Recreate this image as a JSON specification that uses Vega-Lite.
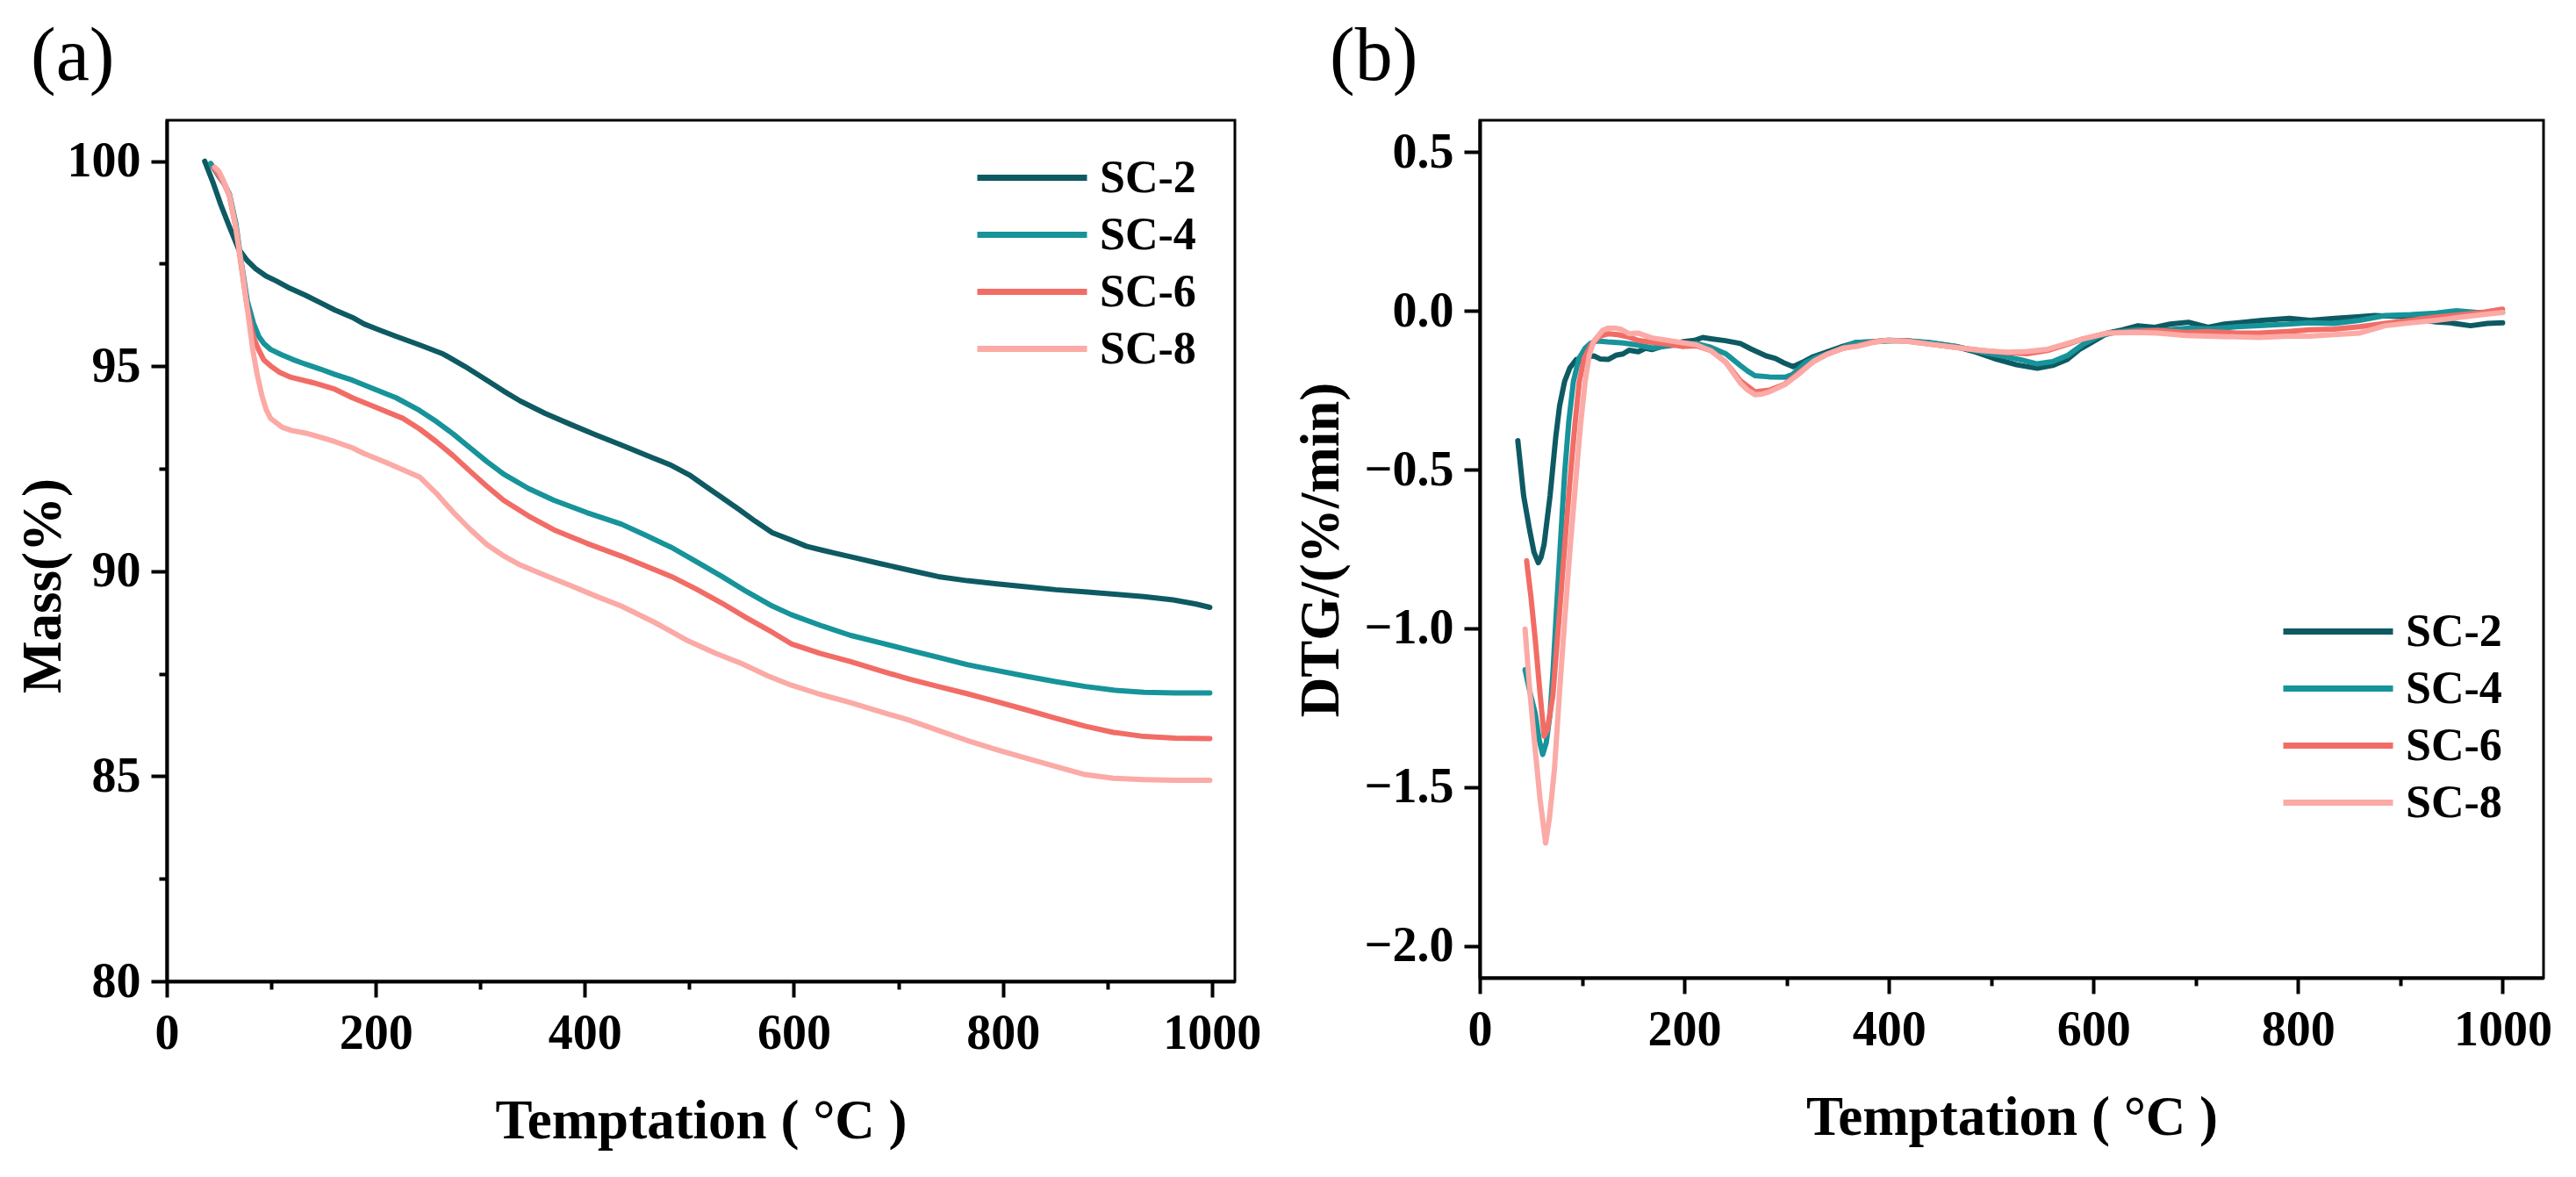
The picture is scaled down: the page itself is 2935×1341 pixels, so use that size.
{
  "$schema": "https://vega.github.io/schema/vega-lite/v6.json",
  "background": "white",
  "padding": {"left": 16, "top": 20, "right": 5, "bottom": 5},
  "config": {
    "font": "Liberation Serif",
    "view": {"stroke": "black", "strokeWidth": 3},
    "axis": {
      "grid": false,
      "domainColor": "black", "domainWidth": 4,
      "tickColor": "black", "tickWidth": 4,
      "labelFont": "Liberation Serif", "labelFontWeight": "bold", "labelFontSize": 56, "labelColor": "black",
      "labelFlush": false, "labelOverlap": false,
      "titleFont": "Liberation Serif", "titleFontWeight": "bold", "titleFontSize": 63, "titleColor": "black"
    },
    "legend": {
      "labelFont": "Liberation Serif", "labelFontWeight": "bold", "labelFontSize": 52, "labelColor": "black"
    },
    "title": {"font": "Liberation Serif", "fontSize": 86, "fontWeight": "normal", "color": "black"}
  },
  "datasets": {
    "tg": [
      {"s":"SC-2","t":36.3,"v":100.0},{"s":"SC-2","t":44,"v":99.5},{"s":"SC-2","t":51.7,"v":98.94},{"s":"SC-2","t":60,"v":98.4},{"s":"SC-2","t":68.5,"v":97.87},{"s":"SC-2","t":76.9,"v":97.58},{"s":"SC-2","t":85.4,"v":97.37},{"s":"SC-2","t":95,"v":97.2},{"s":"SC-2","t":104.8,"v":97.08},{"s":"SC-2","t":118,"v":96.9},{"s":"SC-2","t":132.9,"v":96.73},{"s":"SC-2","t":147,"v":96.55},{"s":"SC-2","t":160.9,"v":96.37},{"s":"SC-2","t":177.7,"v":96.19},{"s":"SC-2","t":188.8,"v":96.03},{"s":"SC-2","t":204,"v":95.88},{"s":"SC-2","t":219.5,"v":95.73},{"s":"SC-2","t":242,"v":95.52},{"s":"SC-2","t":264.4,"v":95.3},{"s":"SC-2","t":285,"v":95.0},{"s":"SC-2","t":306.3,"v":94.66},{"s":"SC-2","t":322,"v":94.4},{"s":"SC-2","t":338.4,"v":94.15},{"s":"SC-2","t":362,"v":93.85},{"s":"SC-2","t":386.6,"v":93.58},{"s":"SC-2","t":410,"v":93.33},{"s":"SC-2","t":434.9,"v":93.08},{"s":"SC-2","t":459,"v":92.83},{"s":"SC-2","t":483,"v":92.58},{"s":"SC-2","t":500,"v":92.35},{"s":"SC-2","t":515.2,"v":92.08},{"s":"SC-2","t":531,"v":91.8},{"s":"SC-2","t":547.3,"v":91.51},{"s":"SC-2","t":563,"v":91.22},{"s":"SC-2","t":579.5,"v":90.94},{"s":"SC-2","t":597.6,"v":90.76},{"s":"SC-2","t":612,"v":90.61},{"s":"SC-2","t":627.7,"v":90.51},{"s":"SC-2","t":639.8,"v":90.44},{"s":"SC-2","t":660,"v":90.32},{"s":"SC-2","t":682,"v":90.19},{"s":"SC-2","t":710,"v":90.03},{"s":"SC-2","t":738.2,"v":89.87},{"s":"SC-2","t":766,"v":89.77},{"s":"SC-2","t":794.5,"v":89.69},{"s":"SC-2","t":822,"v":89.62},{"s":"SC-2","t":850.7,"v":89.55},{"s":"SC-2","t":878,"v":89.5},{"s":"SC-2","t":906.9,"v":89.44},{"s":"SC-2","t":935,"v":89.38},{"s":"SC-2","t":963,"v":89.3},{"s":"SC-2","t":985,"v":89.2},{"s":"SC-2","t":998,"v":89.12},
      {"s":"SC-4","t":42,"v":99.95},{"s":"SC-4","t":50,"v":99.62},{"s":"SC-4","t":55,"v":99.45},{"s":"SC-4","t":60,"v":99.2},{"s":"SC-4","t":66,"v":98.5},{"s":"SC-4","t":71,"v":97.6},{"s":"SC-4","t":77,"v":96.6},{"s":"SC-4","t":83,"v":96.05},{"s":"SC-4","t":88,"v":95.73},{"s":"SC-4","t":93,"v":95.55},{"s":"SC-4","t":99.3,"v":95.41},{"s":"SC-4","t":110,"v":95.28},{"s":"SC-4","t":120,"v":95.17},{"s":"SC-4","t":132.9,"v":95.05},{"s":"SC-4","t":147,"v":94.93},{"s":"SC-4","t":160.9,"v":94.8},{"s":"SC-4","t":177.7,"v":94.66},{"s":"SC-4","t":198,"v":94.45},{"s":"SC-4","t":219.5,"v":94.23},{"s":"SC-4","t":240,"v":93.95},{"s":"SC-4","t":258,"v":93.65},{"s":"SC-4","t":274,"v":93.35},{"s":"SC-4","t":290.2,"v":93.01},{"s":"SC-4","t":306,"v":92.68},{"s":"SC-4","t":322.3,"v":92.37},{"s":"SC-4","t":346,"v":92.02},{"s":"SC-4","t":370.5,"v":91.73},{"s":"SC-4","t":402,"v":91.43},{"s":"SC-4","t":434.9,"v":91.15},{"s":"SC-4","t":459,"v":90.87},{"s":"SC-4","t":483,"v":90.58},{"s":"SC-4","t":507,"v":90.23},{"s":"SC-4","t":531.3,"v":89.87},{"s":"SC-4","t":555,"v":89.5},{"s":"SC-4","t":579.5,"v":89.15},{"s":"SC-4","t":597.6,"v":88.94},{"s":"SC-4","t":627.7,"v":88.66},{"s":"SC-4","t":653.8,"v":88.44},{"s":"SC-4","t":682,"v":88.26},{"s":"SC-4","t":710.1,"v":88.08},{"s":"SC-4","t":738,"v":87.9},{"s":"SC-4","t":766.3,"v":87.72},{"s":"SC-4","t":794,"v":87.58},{"s":"SC-4","t":822.5,"v":87.44},{"s":"SC-4","t":850,"v":87.31},{"s":"SC-4","t":878.8,"v":87.19},{"s":"SC-4","t":906,"v":87.1},{"s":"SC-4","t":935,"v":87.05},{"s":"SC-4","t":965,"v":87.03},{"s":"SC-4","t":998,"v":87.03},
      {"s":"SC-6","t":45,"v":99.85},{"s":"SC-6","t":50,"v":99.65},{"s":"SC-6","t":55,"v":99.45},{"s":"SC-6","t":60,"v":99.15},{"s":"SC-6","t":66,"v":98.4},{"s":"SC-6","t":71,"v":97.5},{"s":"SC-6","t":77,"v":96.44},{"s":"SC-6","t":83,"v":95.7},{"s":"SC-6","t":88,"v":95.4},{"s":"SC-6","t":93,"v":95.15},{"s":"SC-6","t":99.3,"v":95.01},{"s":"SC-6","t":108,"v":94.85},{"s":"SC-6","t":118.9,"v":94.73},{"s":"SC-6","t":140,"v":94.6},{"s":"SC-6","t":160.9,"v":94.44},{"s":"SC-6","t":177.7,"v":94.23},{"s":"SC-6","t":202,"v":93.98},{"s":"SC-6","t":225.9,"v":93.73},{"s":"SC-6","t":242,"v":93.47},{"s":"SC-6","t":258,"v":93.16},{"s":"SC-6","t":274,"v":92.82},{"s":"SC-6","t":290.2,"v":92.44},{"s":"SC-6","t":306,"v":92.08},{"s":"SC-6","t":322.3,"v":91.73},{"s":"SC-6","t":346,"v":91.35},{"s":"SC-6","t":370.5,"v":91.01},{"s":"SC-6","t":402,"v":90.68},{"s":"SC-6","t":434.9,"v":90.37},{"s":"SC-6","t":459,"v":90.12},{"s":"SC-6","t":483,"v":89.87},{"s":"SC-6","t":507,"v":89.56},{"s":"SC-6","t":531.3,"v":89.22},{"s":"SC-6","t":555,"v":88.86},{"s":"SC-6","t":579.5,"v":88.51},{"s":"SC-6","t":597.6,"v":88.23},{"s":"SC-6","t":625,"v":88.0},{"s":"SC-6","t":653.8,"v":87.8},{"s":"SC-6","t":682,"v":87.58},{"s":"SC-6","t":710.1,"v":87.37},{"s":"SC-6","t":738,"v":87.19},{"s":"SC-6","t":766.3,"v":87.01},{"s":"SC-6","t":794,"v":86.82},{"s":"SC-6","t":822.5,"v":86.62},{"s":"SC-6","t":850,"v":86.42},{"s":"SC-6","t":878.8,"v":86.22},{"s":"SC-6","t":906,"v":86.07},{"s":"SC-6","t":935,"v":85.97},{"s":"SC-6","t":965,"v":85.93},{"s":"SC-6","t":998,"v":85.92},
      {"s":"SC-8","t":46,"v":99.85},{"s":"SC-8","t":50,"v":99.75},{"s":"SC-8","t":54.5,"v":99.51},{"s":"SC-8","t":60,"v":99.16},{"s":"SC-8","t":65.7,"v":98.44},{"s":"SC-8","t":71.3,"v":97.51},{"s":"SC-8","t":76.9,"v":96.44},{"s":"SC-8","t":82.5,"v":95.37},{"s":"SC-8","t":86.5,"v":94.8},{"s":"SC-8","t":90.9,"v":94.3},{"s":"SC-8","t":95,"v":93.95},{"s":"SC-8","t":99.3,"v":93.73},{"s":"SC-8","t":110.5,"v":93.51},{"s":"SC-8","t":120,"v":93.43},{"s":"SC-8","t":132.9,"v":93.37},{"s":"SC-8","t":147,"v":93.27},{"s":"SC-8","t":160.9,"v":93.16},{"s":"SC-8","t":177.7,"v":93.01},{"s":"SC-8","t":188.8,"v":92.87},{"s":"SC-8","t":210,"v":92.65},{"s":"SC-8","t":241.9,"v":92.3},{"s":"SC-8","t":258,"v":91.9},{"s":"SC-8","t":274.1,"v":91.44},{"s":"SC-8","t":290,"v":91.03},{"s":"SC-8","t":306.3,"v":90.65},{"s":"SC-8","t":322,"v":90.38},{"s":"SC-8","t":338.4,"v":90.15},{"s":"SC-8","t":362,"v":89.9},{"s":"SC-8","t":386.6,"v":89.65},{"s":"SC-8","t":410,"v":89.4},{"s":"SC-8","t":434.9,"v":89.15},{"s":"SC-8","t":467,"v":88.75},{"s":"SC-8","t":499,"v":88.3},{"s":"SC-8","t":525,"v":88.0},{"s":"SC-8","t":550,"v":87.75},{"s":"SC-8","t":575,"v":87.45},{"s":"SC-8","t":597.6,"v":87.22},{"s":"SC-8","t":625,"v":87.0},{"s":"SC-8","t":653.8,"v":86.8},{"s":"SC-8","t":682,"v":86.58},{"s":"SC-8","t":710.1,"v":86.37},{"s":"SC-8","t":738,"v":86.12},{"s":"SC-8","t":766.3,"v":85.87},{"s":"SC-8","t":794,"v":85.65},{"s":"SC-8","t":822.5,"v":85.44},{"s":"SC-8","t":850,"v":85.24},{"s":"SC-8","t":878.8,"v":85.04},{"s":"SC-8","t":906,"v":84.95},{"s":"SC-8","t":935,"v":84.92},{"s":"SC-8","t":965,"v":84.9},{"s":"SC-8","t":998,"v":84.9}
    ],
    "dtg": [
      {"s":"SC-2","t":37.2,"v":-0.409},{"s":"SC-2","t":42.9,"v":-0.583},{"s":"SC-2","t":48.6,"v":-0.688},{"s":"SC-2","t":53,"v":-0.76},{"s":"SC-2","t":57.2,"v":-0.793},{"s":"SC-2","t":60,"v":-0.775},{"s":"SC-2","t":62.9,"v":-0.735},{"s":"SC-2","t":68.7,"v":-0.583},{"s":"SC-2","t":74.3,"v":-0.397},{"s":"SC-2","t":78,"v":-0.3},{"s":"SC-2","t":82.9,"v":-0.223},{"s":"SC-2","t":88,"v":-0.18},{"s":"SC-2","t":94.4,"v":-0.153},{"s":"SC-2","t":100,"v":-0.162},{"s":"SC-2","t":105,"v":-0.145},{"s":"SC-2","t":111.6,"v":-0.142},{"s":"SC-2","t":118,"v":-0.152},{"s":"SC-2","t":125.9,"v":-0.153},{"s":"SC-2","t":133,"v":-0.14},{"s":"SC-2","t":140,"v":-0.136},{"s":"SC-2","t":146,"v":-0.124},{"s":"SC-2","t":155,"v":-0.129},{"s":"SC-2","t":162,"v":-0.118},{"s":"SC-2","t":168.8,"v":-0.122},{"s":"SC-2","t":180,"v":-0.11},{"s":"SC-2","t":190,"v":-0.106},{"s":"SC-2","t":197.5,"v":-0.098},{"s":"SC-2","t":210,"v":-0.093},{"s":"SC-2","t":218,"v":-0.084},{"s":"SC-2","t":226,"v":-0.088},{"s":"SC-2","t":240,"v":-0.094},{"s":"SC-2","t":254.8,"v":-0.103},{"s":"SC-2","t":265,"v":-0.12},{"s":"SC-2","t":272,"v":-0.13},{"s":"SC-2","t":280,"v":-0.142},{"s":"SC-2","t":289,"v":-0.15},{"s":"SC-2","t":298,"v":-0.165},{"s":"SC-2","t":306.3,"v":-0.176},{"s":"SC-2","t":315,"v":-0.163},{"s":"SC-2","t":326.3,"v":-0.144},{"s":"SC-2","t":342.8,"v":-0.126},{"s":"SC-2","t":355,"v":-0.112},{"s":"SC-2","t":367.5,"v":-0.1},{"s":"SC-2","t":383.6,"v":-0.098},{"s":"SC-2","t":400,"v":-0.093},{"s":"SC-2","t":416.8,"v":-0.094},{"s":"SC-2","t":440,"v":-0.101},{"s":"SC-2","t":466,"v":-0.113},{"s":"SC-2","t":485,"v":-0.13},{"s":"SC-2","t":505.5,"v":-0.153},{"s":"SC-2","t":525,"v":-0.17},{"s":"SC-2","t":545,"v":-0.181},{"s":"SC-2","t":560,"v":-0.172},{"s":"SC-2","t":574.5,"v":-0.153},{"s":"SC-2","t":587,"v":-0.12},{"s":"SC-2","t":599,"v":-0.098},{"s":"SC-2","t":613.9,"v":-0.07},{"s":"SC-2","t":628,"v":-0.06},{"s":"SC-2","t":643.5,"v":-0.047},{"s":"SC-2","t":660,"v":-0.052},{"s":"SC-2","t":675,"v":-0.042},{"s":"SC-2","t":692.8,"v":-0.036},{"s":"SC-2","t":712,"v":-0.052},{"s":"SC-2","t":728,"v":-0.042},{"s":"SC-2","t":742,"v":-0.038},{"s":"SC-2","t":765,"v":-0.03},{"s":"SC-2","t":791.4,"v":-0.024},{"s":"SC-2","t":812,"v":-0.03},{"s":"SC-2","t":835.6,"v":-0.024},{"s":"SC-2","t":855,"v":-0.02},{"s":"SC-2","t":875,"v":-0.015},{"s":"SC-2","t":900,"v":-0.018},{"s":"SC-2","t":919.5,"v":-0.029},{"s":"SC-2","t":935,"v":-0.035},{"s":"SC-2","t":949,"v":-0.038},{"s":"SC-2","t":968.6,"v":-0.047},{"s":"SC-2","t":985,"v":-0.04},{"s":"SC-2","t":1000,"v":-0.038},
      {"s":"SC-4","t":44.3,"v":-1.13},{"s":"SC-4","t":49,"v":-1.2},{"s":"SC-4","t":54.3,"v":-1.269},{"s":"SC-4","t":58,"v":-1.35},{"s":"SC-4","t":61.5,"v":-1.397},{"s":"SC-4","t":65,"v":-1.36},{"s":"SC-4","t":68.7,"v":-1.269},{"s":"SC-4","t":71.5,"v":-1.14},{"s":"SC-4","t":74.3,"v":-0.979},{"s":"SC-4","t":78.5,"v":-0.75},{"s":"SC-4","t":82.9,"v":-0.514},{"s":"SC-4","t":87,"v":-0.35},{"s":"SC-4","t":91.5,"v":-0.223},{"s":"SC-4","t":97,"v":-0.15},{"s":"SC-4","t":103,"v":-0.118},{"s":"SC-4","t":108,"v":-0.103},{"s":"SC-4","t":114.4,"v":-0.095},{"s":"SC-4","t":125,"v":-0.098},{"s":"SC-4","t":140.2,"v":-0.101},{"s":"SC-4","t":155,"v":-0.108},{"s":"SC-4","t":168.8,"v":-0.117},{"s":"SC-4","t":185,"v":-0.11},{"s":"SC-4","t":197,"v":-0.105},{"s":"SC-4","t":211.7,"v":-0.103},{"s":"SC-4","t":226,"v":-0.115},{"s":"SC-4","t":240.4,"v":-0.135},{"s":"SC-4","t":254.7,"v":-0.172},{"s":"SC-4","t":262,"v":-0.19},{"s":"SC-4","t":269,"v":-0.204},{"s":"SC-4","t":283,"v":-0.208},{"s":"SC-4","t":298.5,"v":-0.209},{"s":"SC-4","t":306,"v":-0.2},{"s":"SC-4","t":318.3,"v":-0.163},{"s":"SC-4","t":330,"v":-0.145},{"s":"SC-4","t":340.6,"v":-0.135},{"s":"SC-4","t":355,"v":-0.115},{"s":"SC-4","t":367,"v":-0.1},{"s":"SC-4","t":385,"v":-0.097},{"s":"SC-4","t":400,"v":-0.095},{"s":"SC-4","t":417,"v":-0.094},{"s":"SC-4","t":440,"v":-0.1},{"s":"SC-4","t":466,"v":-0.112},{"s":"SC-4","t":490,"v":-0.13},{"s":"SC-4","t":515,"v":-0.145},{"s":"SC-4","t":530,"v":-0.155},{"s":"SC-4","t":545,"v":-0.167},{"s":"SC-4","t":560,"v":-0.16},{"s":"SC-4","t":575,"v":-0.14},{"s":"SC-4","t":590,"v":-0.105},{"s":"SC-4","t":605,"v":-0.08},{"s":"SC-4","t":620,"v":-0.068},{"s":"SC-4","t":643,"v":-0.06},{"s":"SC-4","t":665,"v":-0.062},{"s":"SC-4","t":692,"v":-0.055},{"s":"SC-4","t":715,"v":-0.057},{"s":"SC-4","t":740,"v":-0.05},{"s":"SC-4","t":762,"v":-0.047},{"s":"SC-4","t":790,"v":-0.042},{"s":"SC-4","t":811,"v":-0.038},{"s":"SC-4","t":835,"v":-0.04},{"s":"SC-4","t":860,"v":-0.03},{"s":"SC-4","t":885,"v":-0.015},{"s":"SC-4","t":910,"v":-0.012},{"s":"SC-4","t":935,"v":-0.007},{"s":"SC-4","t":954,"v":0.0},{"s":"SC-4","t":975,"v":-0.005},{"s":"SC-4","t":1000,"v":-0.005},
      {"s":"SC-6","t":45.8,"v":-0.787},{"s":"SC-6","t":50,"v":-0.9},{"s":"SC-6","t":54.3,"v":-1.037},{"s":"SC-6","t":58.5,"v":-1.19},{"s":"SC-6","t":62.9,"v":-1.339},{"s":"SC-6","t":66,"v":-1.32},{"s":"SC-6","t":71.5,"v":-1.211},{"s":"SC-6","t":75.5,"v":-1.05},{"s":"SC-6","t":80.1,"v":-0.862},{"s":"SC-6","t":84.5,"v":-0.68},{"s":"SC-6","t":88.7,"v":-0.514},{"s":"SC-6","t":93,"v":-0.36},{"s":"SC-6","t":97.3,"v":-0.223},{"s":"SC-6","t":102,"v":-0.15},{"s":"SC-6","t":108.7,"v":-0.107},{"s":"SC-6","t":117.3,"v":-0.08},{"s":"SC-6","t":125.9,"v":-0.072},{"s":"SC-6","t":135,"v":-0.075},{"s":"SC-6","t":146,"v":-0.083},{"s":"SC-6","t":154.5,"v":-0.093},{"s":"SC-6","t":170,"v":-0.1},{"s":"SC-6","t":183,"v":-0.105},{"s":"SC-6","t":197.5,"v":-0.112},{"s":"SC-6","t":211.7,"v":-0.11},{"s":"SC-6","t":226,"v":-0.125},{"s":"SC-6","t":240,"v":-0.16},{"s":"SC-6","t":254.7,"v":-0.22},{"s":"SC-6","t":269,"v":-0.255},{"s":"SC-6","t":283,"v":-0.25},{"s":"SC-6","t":297.6,"v":-0.232},{"s":"SC-6","t":312,"v":-0.195},{"s":"SC-6","t":326,"v":-0.16},{"s":"SC-6","t":340.6,"v":-0.135},{"s":"SC-6","t":355,"v":-0.118},{"s":"SC-6","t":369.3,"v":-0.11},{"s":"SC-6","t":384,"v":-0.098},{"s":"SC-6","t":398,"v":-0.093},{"s":"SC-6","t":417,"v":-0.095},{"s":"SC-6","t":440,"v":-0.105},{"s":"SC-6","t":466,"v":-0.115},{"s":"SC-6","t":490,"v":-0.125},{"s":"SC-6","t":515,"v":-0.132},{"s":"SC-6","t":535,"v":-0.135},{"s":"SC-6","t":555,"v":-0.125},{"s":"SC-6","t":575,"v":-0.105},{"s":"SC-6","t":589,"v":-0.089},{"s":"SC-6","t":614,"v":-0.07},{"s":"SC-6","t":640,"v":-0.065},{"s":"SC-6","t":663,"v":-0.062},{"s":"SC-6","t":690,"v":-0.068},{"s":"SC-6","t":712,"v":-0.065},{"s":"SC-6","t":740,"v":-0.07},{"s":"SC-6","t":762,"v":-0.07},{"s":"SC-6","t":790,"v":-0.065},{"s":"SC-6","t":811,"v":-0.06},{"s":"SC-6","t":835,"v":-0.058},{"s":"SC-6","t":860,"v":-0.05},{"s":"SC-6","t":885,"v":-0.04},{"s":"SC-6","t":910,"v":-0.03},{"s":"SC-6","t":935,"v":-0.02},{"s":"SC-6","t":960,"v":-0.012},{"s":"SC-6","t":980,"v":-0.005},{"s":"SC-6","t":1000,"v":0.005},
      {"s":"SC-8","t":44.3,"v":-1.002},{"s":"SC-8","t":49,"v":-1.2},{"s":"SC-8","t":54.3,"v":-1.386},{"s":"SC-8","t":59,"v":-1.54},{"s":"SC-8","t":64.4,"v":-1.676},{"s":"SC-8","t":68,"v":-1.6},{"s":"SC-8","t":73,"v":-1.444},{"s":"SC-8","t":78,"v":-1.2},{"s":"SC-8","t":82.9,"v":-0.979},{"s":"SC-8","t":88.5,"v":-0.74},{"s":"SC-8","t":94.4,"v":-0.514},{"s":"SC-8","t":98.5,"v":-0.36},{"s":"SC-8","t":103,"v":-0.223},{"s":"SC-8","t":107,"v":-0.14},{"s":"SC-8","t":111.6,"v":-0.095},{"s":"SC-8","t":120,"v":-0.062},{"s":"SC-8","t":125,"v":-0.055},{"s":"SC-8","t":131.6,"v":-0.054},{"s":"SC-8","t":138,"v":-0.058},{"s":"SC-8","t":146,"v":-0.072},{"s":"SC-8","t":154.5,"v":-0.07},{"s":"SC-8","t":168,"v":-0.085},{"s":"SC-8","t":183,"v":-0.093},{"s":"SC-8","t":197,"v":-0.1},{"s":"SC-8","t":211.7,"v":-0.107},{"s":"SC-8","t":226,"v":-0.126},{"s":"SC-8","t":240.4,"v":-0.162},{"s":"SC-8","t":254.7,"v":-0.227},{"s":"SC-8","t":262,"v":-0.25},{"s":"SC-8","t":269,"v":-0.264},{"s":"SC-8","t":276,"v":-0.262},{"s":"SC-8","t":283.3,"v":-0.255},{"s":"SC-8","t":298.5,"v":-0.232},{"s":"SC-8","t":312,"v":-0.199},{"s":"SC-8","t":326,"v":-0.16},{"s":"SC-8","t":340.6,"v":-0.135},{"s":"SC-8","t":355,"v":-0.118},{"s":"SC-8","t":369.3,"v":-0.112},{"s":"SC-8","t":384,"v":-0.1},{"s":"SC-8","t":397.9,"v":-0.093},{"s":"SC-8","t":416.8,"v":-0.096},{"s":"SC-8","t":440,"v":-0.105},{"s":"SC-8","t":466,"v":-0.116},{"s":"SC-8","t":490,"v":-0.125},{"s":"SC-8","t":515.4,"v":-0.13},{"s":"SC-8","t":535,"v":-0.128},{"s":"SC-8","t":555,"v":-0.121},{"s":"SC-8","t":572,"v":-0.105},{"s":"SC-8","t":589,"v":-0.089},{"s":"SC-8","t":614,"v":-0.07},{"s":"SC-8","t":640,"v":-0.068},{"s":"SC-8","t":663,"v":-0.07},{"s":"SC-8","t":690,"v":-0.078},{"s":"SC-8","t":712.5,"v":-0.08},{"s":"SC-8","t":740,"v":-0.082},{"s":"SC-8","t":762,"v":-0.084},{"s":"SC-8","t":790,"v":-0.08},{"s":"SC-8","t":811,"v":-0.08},{"s":"SC-8","t":835,"v":-0.075},{"s":"SC-8","t":860.4,"v":-0.07},{"s":"SC-8","t":885,"v":-0.047},{"s":"SC-8","t":910,"v":-0.038},{"s":"SC-8","t":935,"v":-0.03},{"s":"SC-8","t":960,"v":-0.02},{"s":"SC-8","t":980,"v":-0.012},{"s":"SC-8","t":1000,"v":-0.005}
    ]
  },
  "spacing": 33,
  "resolve": {"scale": {"color": "independent"}, "legend": {"color": "independent"}},
  "hconcat": [
    {
      "width": 1217, "height": 981,
      "title": {"text": "(a)", "anchor": "start", "frame": "group", "dx": -155, "offset": 28},
      "data": {"name": "tg"},
      "mark": {"type": "line", "strokeWidth": 6, "clip": true, "strokeCap": "round", "strokeJoin": "round"},
      "encoding": {
        "x": {
          "field": "t", "type": "quantitative",
          "scale": {"domain": [0, 1022], "nice": false, "zero": false},
          "axis": {
            "title": "Temptation ( °C )", "values": [0,100,200,300,400,500,600,700,800,900,1000],
            "format": "d", "labelExpr": "datum.value % 200 === 0 ? datum.label : ''",
            "tickSize": {"condition": {"test": "datum.value % 200 === 0", "value": 18}, "value": 9},
            "labelPadding": 14, "titlePadding": 41
          }
        },
        "y": {
          "field": "v", "type": "quantitative",
          "scale": {"domain": [80, 101], "nice": false, "zero": false},
          "axis": {
            "title": "Mass(%)", "values": [80,82.5,85,87.5,90,92.5,95,97.5,100],
            "format": "d", "labelExpr": "datum.value % 5 === 0 ? datum.label : ''",
            "tickSize": {"condition": {"test": "datum.value % 5 === 0", "value": 18}, "value": 9},
            "labelPadding": 12, "titleX": -109, "titleY": 530
          }
        },
        "color": {
          "field": "s", "type": "nominal",
          "scale": {"domain": ["SC-2","SC-4","SC-6","SC-8"], "range": ["#0e5a63","#17939a","#f26c66","#fbaaa6"]},
          "legend": {
            "title": null, "orient": "none", "legendX": 995, "legendY": 37, "padding": 0,
            "symbolType": "M-4,0H1", "symbolSize": 2500, "symbolStrokeWidth": 7,
            "labelOffset": 11, "rowPadding": 10
          }
        }
      }
    },
    {
      "width": 1212, "height": 977,
      "title": {"text": "(b)", "anchor": "start", "frame": "group", "dx": -171, "offset": 28},
      "data": {"name": "dtg"},
      "mark": {"type": "line", "strokeWidth": 6, "clip": true, "strokeCap": "round", "strokeJoin": "round"},
      "encoding": {
        "x": {
          "field": "t", "type": "quantitative",
          "scale": {"domain": [0, 1040], "nice": false, "zero": false},
          "axis": {
            "title": "Temptation ( °C )", "values": [0,100,200,300,400,500,600,700,800,900,1000],
            "format": "d", "labelExpr": "datum.value % 200 === 0 ? datum.label : ''",
            "tickSize": {"condition": {"test": "datum.value % 200 === 0", "value": 18}, "value": 9},
            "labelPadding": 14, "titlePadding": 41
          }
        },
        "y": {
          "field": "v", "type": "quantitative",
          "scale": {"domain": [-2.1, 0.6], "nice": false, "zero": false},
          "axis": {
            "title": "DTG/(%/min)", "values": [-2,-1.5,-1,-0.5,0,0.5],
            "format": ".1f", "tickSize": 18,
            "labelPadding": 12, "titleX": -149, "titleY": 489
          }
        },
        "color": {
          "field": "s", "type": "nominal",
          "scale": {"domain": ["SC-2","SC-4","SC-6","SC-8"], "range": ["#0e5a63","#17939a","#f26c66","#fbaaa6"]},
          "legend": {
            "title": null, "orient": "none", "legendX": 987, "legendY": 554, "padding": 0,
            "symbolType": "M-4,0H1", "symbolSize": 2500, "symbolStrokeWidth": 7,
            "labelOffset": 11, "rowPadding": 10
          }
        }
      }
    }
  ]
}
